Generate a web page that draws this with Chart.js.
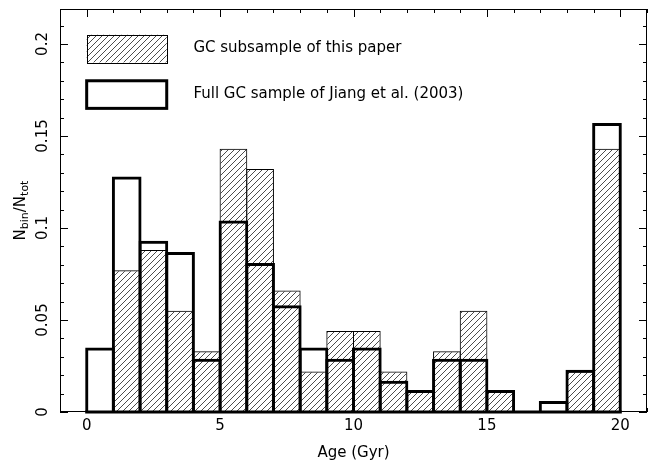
<!DOCTYPE html>
<html><head><meta charset="utf-8">
<script src="https://cdn.jsdelivr.net/npm/chart.js@4.4.1/dist/chart.umd.min.js"></script>
<style>html,body{margin:0;padding:0;background:#fff;}#wrap{width:652px;height:468px;}</style>
</head><body><div id="wrap"><canvas id="c" width="652" height="468"></canvas></div>
<script>
// ---- data ----
const ageBinCenters = [0.5,1.5,2.5,3.5,4.5,5.5,6.5,7.5,8.5,9.5,10.5,11.5,12.5,13.5,14.5,15.5,16.5,17.5,18.5,19.5];
const binEdgeRange = [0, 20];
const subsampleFraction = [0, 0.077, 0.088, 0.055, 0.033, 0.143, 0.132, 0.066, 0.022, 0.044, 0.044, 0.022, 0.011, 0.033, 0.055, 0.011, 0, 0, 0.022, 0.143];
const fullSampleFraction = [0.035, 0.128, 0.093, 0.087, 0.029, 0.104, 0.081, 0.058, 0.035, 0.029, 0.035, 0.017, 0.012, 0.029, 0.029, 0.012, 0, 0.006, 0.023, 0.157];
const xTickValues = [0, 5, 10, 15, 20];
const xTickLabels = ['0', '5', '10', '15', '20'];
const yTickValues = [0, 0.05, 0.1, 0.15, 0.2];
const yTickLabels = ['0', '0.05', '0.1', '0.15', '0.2'];
const seriesLabels = ['GC subsample of this paper', 'Full GC sample of Jiang et al. (2003)'];
const xTitle = 'Age (Gyr)';

// ---- styles ----
const FONT = "'DejaVu Sans', sans-serif";
const canvas = document.getElementById('c');
const ctx0 = canvas.getContext('2d');
function makeHatch() {
  const s = 6, c = document.createElement('canvas');
  c.width = s; c.height = s;
  const g = c.getContext('2d');
  g.strokeStyle = '#111'; g.lineWidth = 0.75;
  g.beginPath();
  g.moveTo(0, s); g.lineTo(s, 0);
  g.moveTo(-1, 1); g.lineTo(1, -1);
  g.moveTo(s - 1, s + 1); g.lineTo(s + 1, s - 1);
  g.stroke();
  return ctx0.createPattern(c, 'repeat');
}
const hatch = makeHatch();

const framePlugin = {
  id: 'frameTicks',
  beforeDatasetsDraw(chart) {
    const {ctx, chartArea: a, scales: {x, y}} = chart;
    ctx.save();
    ctx.strokeStyle = '#000'; ctx.lineWidth = 1;
    ctx.strokeRect(a.left + 0.5, a.top + 0.5, a.right - a.left - 1, a.bottom - a.top - 1);
    ctx.beginPath();
    for (let v = Math.ceil(x.min); v <= x.max; v++) {
      const px = Math.round(x.getPixelForValue(v)) + 0.5;
      const len = (v % 5 === 0) ? 8 : 4;
      ctx.moveTo(px, a.bottom); ctx.lineTo(px, a.bottom - len);
      ctx.moveTo(px, a.top); ctx.lineTo(px, a.top + len);
    }
    for (let k = 0; k * 0.01 <= y.max + 1e-9; k++) {
      const py = Math.round(y.getPixelForValue(k * 0.01)) + 0.5;
      const len = (k % 5 === 0) ? 8 : 4;
      ctx.moveTo(a.left, py); ctx.lineTo(a.left + len, py);
      ctx.moveTo(a.right, py); ctx.lineTo(a.right - len, py);
    }
    ctx.stroke();
    ctx.restore();
  },
  afterDatasetsDraw(chart) {
    const {ctx, scales: {x, y}} = chart;
    ctx.save();
    ctx.strokeStyle = '#000'; ctx.lineWidth = 3;
    const y0 = y.getPixelForValue(0);
    ctx.beginPath();
    ctx.moveTo(x.getPixelForValue(binEdgeRange[0]) - 1.5, y0);
    ctx.lineTo(x.getPixelForValue(binEdgeRange[1]) + 1.5, y0);
    ctx.stroke();
    ctx.restore();
  },
  afterDraw(chart) {
    const {ctx, chartArea: a, scales: {x, y}} = chart;
    const o = chart.options.plugins.frameTicks;
    // legend
    ctx.save();
    o.legend.forEach((row, i) => {
      const x0 = x.getPixelForValue(o.legendBoxX[0]), x1 = x.getPixelForValue(o.legendBoxX[1]);
      const yt = y.getPixelForValue(row.top), yb = y.getPixelForValue(row.bottom);
      if (i === 0) {
        ctx.fillStyle = hatch; ctx.fillRect(x0, yt, x1 - x0, yb - yt);
        ctx.strokeStyle = '#000'; ctx.lineWidth = 1;
        ctx.strokeRect(Math.round(x0) + 0.5, Math.round(yt) + 0.5, Math.round(x1 - x0), Math.round(yb - yt));
      } else {
        ctx.strokeStyle = '#000'; ctx.lineWidth = 3;
        ctx.strokeRect(x0, yt, x1 - x0, yb - yt);
      }
      ctx.fillStyle = '#000';
      ctx.font = '15px ' + FONT;
      ctx.textBaseline = 'middle'; ctx.textAlign = 'left';
      ctx.fillText(seriesLabels[i], x.getPixelForValue(o.legendTextX), (yt + yb) / 2);
    });
    ctx.restore();
    // y title with subscripts
    ctx.save();
    ctx.fillStyle = '#000';
    const parts = [['N', 15, 0], ['bin', 11, 4], ['/N', 15, 0], ['tot', 11, 4]];
    let total = 0;
    parts.forEach(p => { ctx.font = p[1] + 'px ' + FONT; p.push(ctx.measureText(p[0]).width); total += p[3]; });
    ctx.translate(o.yTitleX, (a.top + a.bottom) / 2);
    ctx.rotate(-Math.PI / 2);
    ctx.textBaseline = 'middle'; ctx.textAlign = 'left';
    let cx = -total / 2;
    parts.forEach(p => { ctx.font = p[1] + 'px ' + FONT; ctx.fillText(p[0], cx, p[2]); cx += p[3]; });
    ctx.restore();
  }
};

new Chart(canvas, {
  type: 'bar',
  data: {
    datasets: [
      { label: seriesLabels[0], data: ageBinCenters.map((c, i) => ({x: c, y: subsampleFraction[i]})),
        backgroundColor: hatch, borderColor: '#000', borderWidth: 1,
        barPercentage: 1.0375, categoryPercentage: 1, grouped: false, order: 2 },
      { label: seriesLabels[1], data: ageBinCenters.map((c, i) => ({x: c, y: fullSampleFraction[i]})),
        backgroundColor: 'rgba(0,0,0,0)', borderColor: '#000', borderWidth: 3,
        barPercentage: 1.1124, categoryPercentage: 1, grouped: false, order: 1 }
    ]
  },
  options: {
    responsive: false, animation: false, devicePixelRatio: 1,
    layout: { padding: { top: 9, right: 5, left: 0, bottom: 0 } },
    plugins: {
      legend: { display: false }, tooltip: { enabled: false },
      frameTicks: {
        legendBoxX: [0, 3], legendTextX: 4, yTitleX: 21,
        legend: [{top: 0.205, bottom: 0.19}, {top: 0.18, bottom: 0.165}]
      }
    },
    scales: {
      x: {
        type: 'linear', min: -1, max: 21, offset: false,
        grid: { display: false, drawTicks: false }, border: { display: false },
        afterBuildTicks: s => { s.ticks = xTickValues.map(v => ({value: v})); },
        afterFit: s => { s.height = 56; s.paddingLeft = 0; s.paddingRight = 0; },
        ticks: { callback: (v, i) => xTickLabels[i], padding: 5, minRotation: 0, maxRotation: 0, autoSkip: false,
                 color: '#000', font: { family: FONT, size: 15 } },
        title: { display: true, text: xTitle, color: '#000', font: { family: FONT, size: 15 }, padding: { top: 0, bottom: 6 } }
      },
      y: {
        type: 'linear', min: 0, max: 0.219,
        grid: { display: false, drawTicks: false }, border: { display: false },
        afterBuildTicks: s => { s.ticks = yTickValues.map(v => ({value: v})); },
        afterFit: s => { s.width = 60; s.paddingTop = 0; s.paddingBottom = 0; },
        ticks: { callback: (v, i) => yTickLabels[i], padding: 0, minRotation: 90, maxRotation: 90, crossAlign: 'center',
                 autoSkip: false, color: '#000', font: { family: FONT, size: 15 } },
        title: { display: false }
      }
    }
  },
  plugins: [framePlugin]
});
</script>
</body></html>
